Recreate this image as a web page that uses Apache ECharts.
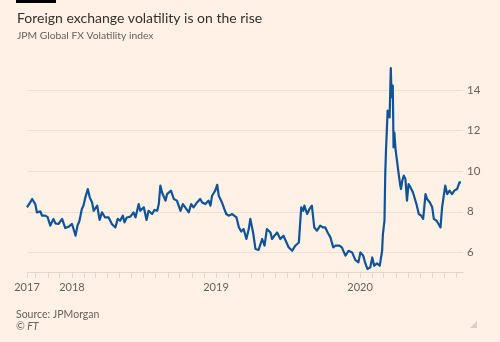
<!DOCTYPE html>
<html>
<head>
<meta charset="utf-8">
<title>Foreign exchange volatility is on the rise</title>
<script src="https://cdn.jsdelivr.net/npm/echarts@6/dist/echarts.min.js"></script>
<style>
  html, body { margin: 0; padding: 0; background: #fff1e5; }
  #chart { width: 500px; height: 342px; }
</style>
</head>
<body>
<div id="chart"></div>
<script>
// JPM Global FX Volatility index, Sep 2017 - Sep 2020
const dates = [
  '2017-09-09','2017-09-17','2017-09-22','2017-09-26','2017-09-30','2017-10-04','2017-10-08','2017-10-13',
  '2017-10-17','2017-10-25','2017-10-31','2017-11-07','2017-11-15','2017-11-20','2017-11-28','2017-12-07',
  '2017-12-15','2017-12-24','2018-01-01','2018-01-05','2018-01-10','2018-01-15','2018-01-20','2018-01-26',
  '2018-01-30','2018-02-04','2018-02-10','2018-02-15','2018-02-21','2018-02-25','2018-03-06','2018-03-12',
  '2018-03-18','2018-03-26','2018-04-04','2018-04-12','2018-04-21','2018-04-27','2018-05-03','2018-05-10',
  '2018-05-14','2018-05-20','2018-05-29','2018-06-06','2018-06-11','2018-06-19','2018-06-23','2018-07-02',
  '2018-07-09','2018-07-14','2018-07-23','2018-07-29','2018-08-05','2018-08-09','2018-08-13','2018-08-17',
  '2018-08-21','2018-08-26','2018-08-30','2018-09-03','2018-09-09','2018-09-16','2018-09-24','2018-10-03',
  '2018-10-09','2018-10-15','2018-10-24','2018-10-30','2018-11-05','2018-11-14','2018-11-22','2018-11-27',
  '2018-12-05','2018-12-13','2018-12-18','2018-12-22','2018-12-30','2019-01-04','2019-01-08','2019-01-12',
  '2019-01-16','2019-01-22','2019-01-27','2019-02-02','2019-02-11','2019-02-15','2019-02-22','2019-02-28',
  '2019-03-06','2019-03-12','2019-03-19','2019-03-25','2019-03-29','2019-04-05','2019-04-11','2019-04-19',
  '2019-04-28','2019-05-04','2019-05-10','2019-05-19','2019-05-23','2019-05-29','2019-06-05','2019-06-13',
  '2019-06-21','2019-06-26','2019-07-04','2019-07-13','2019-07-21','2019-07-30','2019-08-05','2019-08-10',
  '2019-08-13','2019-08-20','2019-08-26','2019-09-01','2019-09-07','2019-09-14','2019-09-22','2019-09-29',
  '2019-10-05','2019-10-11','2019-10-18','2019-10-25','2019-10-31','2019-11-05','2019-11-10','2019-11-16',
  '2019-11-25','2019-12-03','2019-12-12','2019-12-20','2019-12-28','2020-01-02','2020-01-09','2020-01-15',
  '2020-01-20','2020-01-27','2020-02-01','2020-02-06','2020-02-13','2020-02-20','2020-02-26','2020-02-28',
  '2020-03-03','2020-03-05','2020-03-07','2020-03-10','2020-03-11','2020-03-14','2020-03-16','2020-03-19',
  '2020-03-21','2020-03-24','2020-03-26','2020-03-28','2020-03-31','2020-04-04','2020-04-08','2020-04-12',
  '2020-04-14','2020-04-17','2020-04-21','2020-04-25','2020-04-29','2020-05-03','2020-05-08','2020-05-14',
  '2020-05-18','2020-05-23','2020-05-29','2020-06-04','2020-06-09','2020-06-15','2020-06-19','2020-06-26',
  '2020-07-02','2020-07-06','2020-07-13','2020-07-18','2020-07-23','2020-07-27','2020-07-31','2020-08-04',
  '2020-08-09','2020-08-15','2020-08-21','2020-08-27','2020-09-03','2020-09-09','2020-09-13'
];

const fxVol = [
  8.22, 8.46, 8.63, 8.58, 8.38, 7.97, 7.89, 8.02,
  7.81, 7.81, 7.75, 7.32, 7.65, 7.43, 7.40, 7.65,
  7.20, 7.27, 7.40, 7.15, 6.82, 7.32, 7.56, 8.14,
  8.30, 8.71, 9.12, 8.71, 8.46, 8.05, 8.30, 7.60,
  7.97, 7.72, 7.72, 7.40, 7.23, 7.65, 7.56, 7.81,
  7.48, 7.72, 7.76, 7.97, 7.72, 8.38, 8.05, 8.22,
  7.60, 8.05, 7.89, 8.09, 8.05, 8.38, 9.29, 8.96,
  8.87, 8.55, 8.87, 8.96, 9.04, 8.63, 8.55, 8.05,
  8.38, 8.22, 7.97, 8.38, 8.22, 8.46, 8.63, 8.46,
  8.38, 8.55, 8.30, 8.79, 9.04, 9.33, 8.79, 8.63,
  8.46, 8.14, 7.89, 7.81, 7.89, 7.92, 7.72, 7.23,
  7.03, 7.15, 6.66, 7.15, 7.65, 6.98, 6.17, 6.12,
  6.66, 6.33, 7.15, 6.98, 6.66, 6.82, 6.98, 6.66,
  6.82, 6.90, 6.25, 6.08, 6.33, 6.49, 8.22, 8.05,
  8.30, 7.89, 8.14, 8.30, 7.23, 7.07, 7.32, 7.23,
  7.23, 6.98, 6.74, 6.25, 6.33, 6.41, 6.33, 6.25,
  5.84, 6.08, 6.00, 5.63, 5.51, 6.00, 5.84, 5.43,
  5.18, 5.26, 5.75, 5.34, 5.46, 5.34, 6.08, 6.90,
  7.56, 9.90, 11.10, 11.17, 12.98, 13.06, 12.65, 15.08,
  13.64, 14.21, 11.17, 11.91, 11.09, 11.17, 9.86, 9.29,
  9.12, 9.53, 9.78, 9.62, 8.55, 9.36, 9.20, 8.96,
  8.87, 8.38, 7.89, 7.81, 7.65, 8.87, 8.63, 8.46,
  8.22, 7.65, 7.56, 7.40, 7.23, 8.22, 8.30, 9.29,
  8.87, 9.04, 8.87, 9.04, 9.12, 9.45, 9.45
];

// x-axis: monthly ticks, year labels
const axisStart = '2017-09-09';
const axisEnd = '2020-09-18';
const monthTicks = [
  '2017-09-09','2017-10-01','2017-11-01','2017-12-01',
  '2018-01-01','2018-02-01','2018-03-01','2018-04-01','2018-05-01','2018-06-01',
  '2018-07-01','2018-08-01','2018-09-01','2018-10-01','2018-11-01','2018-12-01',
  '2019-01-01','2019-02-01','2019-03-01','2019-04-01','2019-05-01','2019-06-01',
  '2019-07-01','2019-08-01','2019-09-01','2019-10-01','2019-11-01','2019-12-01',
  '2020-01-01','2020-02-01','2020-03-01','2020-04-01','2020-05-01','2020-06-01',
  '2020-07-01','2020-08-01','2020-09-01'
];
const yearLabelDates = ['2017-09-09', '2018-01-01', '2019-01-01', '2020-01-01'];

// y-axis
const yMin = 5;
const yMax = 15.5;
const yLabelValues = [6, 8, 10, 12, 14];

function toTime(s) {
  const p = s.split('-').map(Number);
  return Date.UTC(p[0], p[1] - 1, p[2]);
}

const seriesData = dates.map((d, i) => [toTime(d), fxVol[i]]);

const chart = echarts.init(document.getElementById('chart'), null, { renderer: 'canvas' });

const textFont = 'Lato, "Noto Sans", sans-serif';
const gridColor = '#eddfd2';

chart.setOption({
  backgroundColor: '#fff1e5',
  animation: false,
  title: {
    text: 'Foreign exchange volatility is on the rise',
    subtext: 'JPM Global FX Volatility index',
    left: 12,
    top: 6,
    itemGap: 6,
    textStyle: { fontFamily: textFont, fontSize: 14, fontWeight: 'normal', color: '#33302e' },
    subtextStyle: { fontFamily: textFont, fontSize: 10.3, color: '#66605c' }
  },
  grid: { left: 27, right: 37, top: 59.5, bottom: 69.3, containLabel: false },
  xAxis: {
    type: 'value',
    min: toTime(axisStart),
    max: toTime(axisEnd),
    axisLine: { show: true, lineStyle: { color: '#e3d5c8', width: 1 } },
    axisTick: {
      show: true,
      length: 5,
      lineStyle: { color: '#e3d5c8' },
      customValues: monthTicks.map(toTime)
    },
    axisLabel: {
      show: true,
      customValues: yearLabelDates.map(toTime),
      formatter: v => String(new Date(v).getUTCFullYear()),
      color: '#66605c',
      fontFamily: textFont,
      fontSize: 11,
      margin: 9
    },
    splitLine: { show: false }
  },
  yAxis: {
    type: 'value',
    position: 'right',
    min: yMin,
    max: yMax,
    interval: 1,
    axisLine: { show: false },
    axisTick: { show: false },
    axisLabel: {
      color: '#66605c',
      fontFamily: textFont,
      fontSize: 11.5,
      margin: 4,
      formatter: v => (yLabelValues.indexOf(v) >= 0 ? String(v) : '')
    },
    splitLine: {
      show: true,
      showMinLine: false,
      showMaxLine: false,
      lineStyle: { color: [gridColor, 'rgba(0,0,0,0)'], width: 1 }
    }
  },
  series: [{
    type: 'line',
    data: seriesData,
    showSymbol: false,
    clip: false,
    lineStyle: { color: '#0f5499', width: 2.2, join: 'round' },
    z: 3
  }],
  graphic: [
    { type: 'rect', left: 16, top: 0, shape: { width: 40, height: 3 }, style: { fill: '#000000' } },
    { type: 'text', left: 16, top: 309, style: { text: 'Source: JPMorgan', font: '10.5px ' + textFont, fill: '#66605c' } },
    { type: 'text', left: 16, top: 321, style: { text: '© FT', font: 'italic 10.5px ' + textFont, fill: '#66605c' } },
    { type: 'polygon', shape: { points: [[477, 321], [477, 328], [470, 328]] }, style: { fill: '#d8cfc8' } }
  ]
});
</script>
</body>
</html>
